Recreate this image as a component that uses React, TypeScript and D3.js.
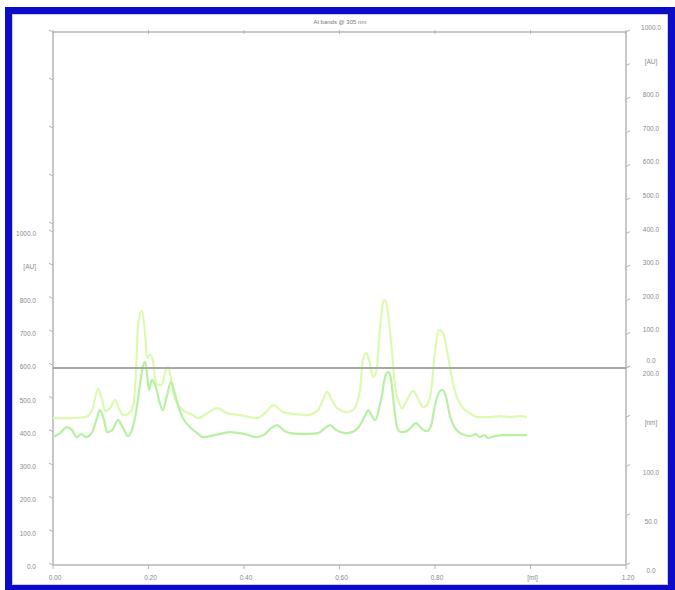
import React from "react";
import * as d3 from "d3";

const title = "Al bands @ 305 nm";
const xTickValues = [0, 0.2, 0.4, 0.6, 0.8, 1.0, 1.2];
const xTickLabels = ["0.00", "0.20", "0.40", "0.60", "0.80", "[ml]", "1.20"];
const leftTickValues = [0, 100, 200, 300, 400, 500, 600, 700, 800, 900, 1000];
const leftTickLabels = ["0.0", "100.0", "200.0", "300.0", "400.0", "500.0", "600.0", "700.0", "800.0", "[AU]", "1000.0"];
const upperRightTickValues = [0, 100, 200, 300, 400, 500, 600, 700, 800, 900, 1000];
const upperRightTickLabels = ["0.0", "100.0", "200.0", "300.0", "400.0", "500.0", "600.0", "700.0", "800.0", "[AU]", "1000.0"];
const lowerRightTickValues = [0, 50, 100, 150, 200];
const lowerRightTickLabels = ["0.0", "50.0", "100.0", "[nm]", "200.0"];
const upperLeftExtraTicks = [7, 6, 5, 4, 3];

const upperX = [0, 0.036, 0.067, 0.082, 0.094, 0.103, 0.109, 0.119, 0.13, 0.138, 0.147, 0.157, 0.168, 0.174, 0.178, 0.186, 0.193, 0.197, 0.203, 0.209, 0.214, 0.22, 0.228, 0.235, 0.241, 0.247, 0.253, 0.262, 0.276, 0.293, 0.304, 0.323, 0.344, 0.364, 0.392, 0.427, 0.444, 0.461, 0.482, 0.507, 0.532, 0.555, 0.565, 0.574, 0.584, 0.595, 0.616, 0.628, 0.637, 0.643, 0.649, 0.656, 0.662, 0.67, 0.677, 0.685, 0.691, 0.695, 0.702, 0.71, 0.716, 0.723, 0.731, 0.741, 0.754, 0.764, 0.775, 0.783, 0.792, 0.8, 0.808, 0.817, 0.825, 0.834, 0.844, 0.857, 0.873, 0.888, 0.915, 0.936, 0.957, 0.978, 0.993];
const upperY = [441, 441, 444, 465, 529, 496, 462, 471, 495, 471, 450, 453, 480, 586, 721, 763, 691, 622, 631, 616, 556, 541, 541, 580, 595, 562, 511, 480, 462, 450, 441, 456, 471, 456, 450, 441, 456, 480, 459, 453, 450, 465, 495, 520, 495, 471, 459, 465, 489, 526, 616, 637, 616, 565, 580, 712, 787, 796, 751, 640, 541, 495, 471, 495, 523, 501, 474, 480, 526, 640, 706, 697, 646, 571, 511, 474, 456, 444, 444, 447, 444, 447, 444];

const lowerX = [0, 0.015, 0.029, 0.04, 0.05, 0.059, 0.069, 0.082, 0.092, 0.098, 0.107, 0.113, 0.124, 0.136, 0.147, 0.157, 0.165, 0.174, 0.182, 0.189, 0.193, 0.197, 0.201, 0.207, 0.214, 0.222, 0.23, 0.239, 0.247, 0.253, 0.26, 0.272, 0.287, 0.302, 0.314, 0.339, 0.371, 0.402, 0.427, 0.444, 0.457, 0.469, 0.482, 0.496, 0.528, 0.555, 0.57, 0.58, 0.593, 0.612, 0.626, 0.643, 0.654, 0.66, 0.668, 0.675, 0.683, 0.689, 0.695, 0.702, 0.708, 0.714, 0.721, 0.729, 0.741, 0.752, 0.76, 0.771, 0.783, 0.792, 0.8, 0.808, 0.815, 0.823, 0.831, 0.842, 0.857, 0.873, 0.886, 0.894, 0.903, 0.911, 0.926, 0.947, 0.968, 0.993];
const lowerY = [384, 396, 414, 405, 384, 393, 384, 399, 441, 465, 435, 399, 405, 435, 411, 387, 405, 459, 541, 601, 610, 571, 526, 556, 541, 495, 465, 511, 550, 526, 489, 441, 414, 396, 384, 390, 399, 393, 384, 393, 411, 420, 405, 396, 393, 396, 411, 420, 405, 396, 399, 420, 450, 465, 447, 435, 471, 511, 562, 580, 556, 480, 411, 399, 402, 417, 426, 411, 402, 420, 480, 517, 526, 505, 450, 411, 393, 387, 393, 384, 390, 381, 387, 390, 390, 390];

const W = 675;
const H = 590;
const L = 53;
const R = 626;
const T = 32;
const B = 565;
const MID = 368;

export default function App() {
  const x = d3.scaleLinear().domain([0, 1.2]).range([L, R]);
  const yLeft = d3.scaleLinear().domain([0, 1000]).range([B, 232]);
  const yUpperRight = d3.scaleLinear().domain([0, 1000]).range([MID, T]);
  const yLowerRight = d3.scaleLinear().domain([0, 200]).range([B, MID]);
  const yUpperLeft = d3.scaleLinear().domain([0, 7]).range([MID, T]);

  const line = d3
    .line<[number, number]>()
    .x((d) => x(d[0]))
    .y((d) => yLeft(d[1]))
    .curve(d3.curveMonotoneX);

  const upperPts: [number, number][] = upperX.map((v, i) => [v, upperY[i]]);
  const lowerPts: [number, number][] = lowerX.map((v, i) => [v, lowerY[i]]);

  const axisColor = "#b4b4b4";
  const textColor = "#8a8a8a";
  const font = "Liberation Sans, Arial, sans-serif";

  return (
    <svg
      width={W}
      height={H}
      style={{ position: "absolute", left: 0, top: 0, background: "#fff" }}
      fontFamily={font}
    >
      <rect x={0} y={0} width={W} height={H} fill="#fff" />
      <rect x={5} y={7} width={W - 5} height={H - 7} fill="#0c0cc8" />
      <rect x={12} y={14} width={W - 19} height={H - 19} fill="#c8c8f4" />
      <rect x={13} y={15} width={W - 21} height={H - 21} fill="#fff" />

      {/* title */}
      <text x={340} y={24} fontSize={6} fill="#777" textAnchor="middle">
        {title}
      </text>

      {/* frame axes */}
      <line x1={L} x2={R} y1={T} y2={T} stroke={axisColor} strokeWidth={1.5} />
      <line x1={L} x2={R} y1={B} y2={B} stroke={axisColor} strokeWidth={1.5} />
      <line x1={L} x2={L} y1={T} y2={B} stroke={axisColor} strokeWidth={1.5} />
      <line x1={R} x2={R} y1={T} y2={B} stroke={axisColor} strokeWidth={1.5} />

      {/* top ticks */}
      {xTickValues.map((v, i) => (
        <line key={"tt" + i} x1={x(v)} x2={x(v)} y1={T - 2} y2={T + 2} stroke={axisColor} strokeWidth={1} />
      ))}
      {/* bottom ticks & labels */}
      {xTickValues.map((v, i) => (
        <g key={"bt" + i}>
          <line x1={x(v)} x2={x(v)} y1={B} y2={B + 4} stroke={axisColor} strokeWidth={1} />
          <text x={x(v) + 2} y={B + 15} fontSize={6.5} fill={textColor} textAnchor="middle">
            {xTickLabels[i]}
          </text>
        </g>
      ))}

      {/* left lower ticks & labels */}
      {leftTickValues.map((v, i) => (
        <g key={"lt" + i}>
          <line x1={L - 4} x2={L} y1={yLeft(v) - 2} y2={yLeft(v)} stroke={axisColor} strokeWidth={1} />
          <text x={36} y={yLeft(v) + 4} fontSize={6.5} fill={textColor} textAnchor="end">
            {leftTickLabels[i]}
          </text>
        </g>
      ))}
      {/* left upper extra ticks */}
      {upperLeftExtraTicks.map((v, i) => (
        <line key={"ul" + i} x1={L - 4} x2={L} y1={yUpperLeft(v) - 2} y2={yUpperLeft(v)} stroke={axisColor} strokeWidth={1} />
      ))}

      {/* right upper ticks & labels */}
      {upperRightTickValues.map((v, i) => (
        <g key={"ur" + i}>
          <line x1={R} x2={R + 4} y1={yUpperRight(v)} y2={yUpperRight(v) - 2} stroke={axisColor} strokeWidth={1} />
          <text x={651} y={yUpperRight(v) - (v === 0 ? 5 : 2)} fontSize={6.5} fill={textColor} textAnchor="middle">
            {upperRightTickLabels[i]}
          </text>
        </g>
      ))}
      {/* right lower ticks & labels */}
      {lowerRightTickValues.map((v, i) => (
        <g key={"lr" + i}>
          <line x1={R} x2={R + 4} y1={yLowerRight(v)} y2={yLowerRight(v) - 2} stroke={axisColor} strokeWidth={1} />
          <text x={651} y={yLowerRight(v) + 8} fontSize={6.5} fill={textColor} textAnchor="middle">
            {lowerRightTickLabels[i]}
          </text>
        </g>
      ))}

      {/* data */}
      <path d={line(upperPts) || ""} fill="none" stroke="#dcfab0" strokeWidth={2.2} />
      <path d={line(lowerPts) || ""} fill="none" stroke="#b8f0a4" strokeWidth={2.2} />

      {/* separator */}
      <line x1={L} x2={R} y1={MID} y2={MID} stroke="#a8a8a8" strokeWidth={2} />
    </svg>
  );
}
